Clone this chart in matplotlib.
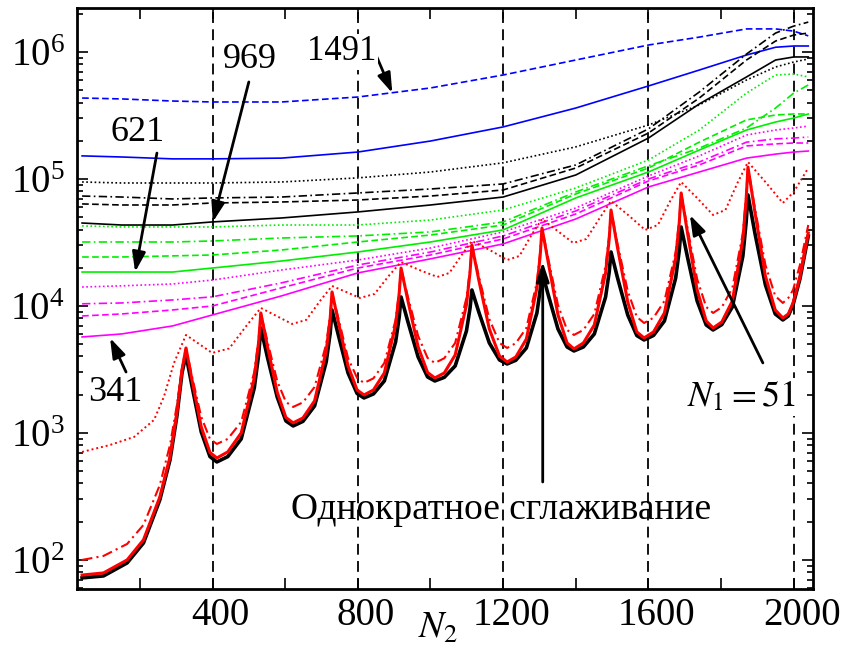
import numpy as np
import matplotlib.pyplot as plt
from matplotlib.ticker import MultipleLocator, LogLocator, NullFormatter
from matplotlib.transforms import ScaledTranslation

plt.rcParams['font.family'] = ['Liberation Serif', 'DejaVu Serif']
plt.rcParams['mathtext.fontset'] = 'stix'

# ---- smooth curves (N1 = 341 ... 1491) ----
x_top = [41, 150, 290, 400, 590, 800, 1000, 1200, 1400, 1600, 1740, 1870, 1950, 2000, 2040]

blue_dashed = [4.34e5, 4.27e5, 4.11e5, 4.04e5, 4.04e5, 4.42e5, 5.21e5, 6.59e5, 8.65e5,
               1.135e6, 1.31e6, 1.52e6, 1.52e6, 1.46e6, 1.34e6]
blue_solid = [1.52e5, 1.49e5, 1.44e5, 1.44e5, 1.46e5, 1.63e5, 1.99e5, 2.57e5, 3.62e5,
              5.40e5, 7.21e5, 9.47e5, 1.09e6, 1.115e6, 1.115e6]

black_dotted = [9.47e4, 9.30e4, 9.30e4, 9.30e4, 9.47e4, 1.02e5, 1.135e5, 1.34e5, 1.79e5,
                2.66e5, 3.83e5, 6.02e5, 7.62e5, 8.34e5, 8.81e5]
black_dashdot = [7.34e4, 7.21e4, 6.96e4, 7.09e4, 7.21e4, 7.76e4, 8.34e4, 9.14e4, 1.29e5,
                 2.48e5, 4.84e5, 9.64e5, 1.41e6, 1.60e6, 1.72e6]
black_dashed = [6.36e4, 6.24e4, 6.24e4, 6.47e4, 6.59e4, 6.83e4, 7.34e4, 8.19e4, 1.22e5,
                2.30e5, 4.34e5, 8.65e5, 1.22e6, 1.36e6, 1.41e6]
black_solid = [4.50e4, 4.34e4, 4.34e4, 4.59e4, 4.93e4, 5.50e4, 6.24e4, 7.21e4, 1.075e5,
               2.10e5, 3.90e5, 6.36e5, 8.65e5, 9.14e5, 9.14e5]

green_dotted = [4.27e4, 4.19e4, 4.19e4, 4.19e4, 4.34e4, 4.34e4, 4.75e4, 5.70e4, 8.50e4,
                1.41e5, 2.43e5, 4.75e5, 6.59e5, 6.71e5, 6.36e5]
green_dashdot = [3.19e4, 3.19e4, 3.19e4, 3.25e4, 3.43e4, 3.56e4, 3.83e4, 4.59e4, 7.90e4,
                 1.27e5, 1.75e5, 2.52e5, 3.62e5, 4.75e5, 5.50e5]
green_dashed = [2.43e4, 2.43e4, 2.48e4, 2.52e4, 2.76e4, 3.19e4, 3.62e4, 4.34e4, 7.62e4,
                1.22e5, 1.95e5, 2.92e5, 3.19e5, 3.25e5, 3.25e5]
green_solid = [1.85e4, 1.85e4, 1.85e4, 1.99e4, 2.26e4, 2.66e4, 3.19e4, 3.97e4, 7.09e4,
               1.135e5, 1.69e5, 2.43e5, 2.81e5, 3.02e5, 3.25e5]

magenta_dotted = [1.41e4, 1.44e4, 1.49e4, 1.60e4, 1.92e4, 2.30e4, 2.86e4, 3.83e4, 5.91e4,
                  1.056e5, 1.52e5, 2.22e5, 2.43e5, 2.52e5, 2.61e5]
magenta_dashdot = [1.04e4, 1.056e4, 1.115e4, 1.18e4, 1.52e4, 2.10e4, 2.66e4, 3.56e4, 5.60e4,
                   1.00e5, 1.36e5, 1.95e5, 2.07e5, 2.10e5, 2.14e5]
magenta_dashed = [8.34e3, 8.65e3, 9.30e3, 1.00e4, 1.39e4, 1.99e4, 2.52e4, 3.37e4, 5.30e4,
                  9.64e4, 1.29e5, 1.82e5, 1.89e5, 1.92e5, 1.92e5]
magenta_solid = [5.70e3, 6.02e3, 6.96e3, 8.50e3, 1.20e4, 1.82e4, 2.35e4, 3.08e4, 4.84e4,
                 8.65e4, 1.135e5, 1.46e5, 1.57e5, 1.63e5, 1.66e5]

# ---- oscillating curves (N1 = 51 and single smoothing) ----
x_osc = [41, 100, 165, 210, 255, 283, 302, 316,
         327, 344, 369, 393, 412, 442, 479, 515, 527,
         533, 551, 578, 602, 622, 649, 681, 713, 724,
         729, 747, 773, 798, 817, 843, 873, 904, 914,
         919, 938, 966, 992, 1012, 1038, 1068, 1099, 1109,
         1114, 1133, 1162, 1190, 1211, 1235, 1264, 1293, 1302,
         1307, 1325, 1351, 1376, 1395, 1421, 1451, 1482, 1492,
         1497, 1515, 1543, 1568, 1588, 1614, 1644, 1675, 1685,
         1690, 1708, 1734, 1759, 1778, 1802, 1831, 1860, 1869,
         1874, 1893, 1922, 1949, 1970, 1985, 1998, 2017, 2040]

red_solid = [76, 79, 100, 144, 313, 647, 1440, 3130,
             4670, 2570, 1115, 702, 635, 709, 1000, 2710, 5206,
             8810, 4840, 2100, 1324, 1200, 1313, 1790, 4420, 8044,
             12900, 7350, 3370, 2181, 1990, 2181, 2970, 7090, 12660,
             19900, 10950, 4760, 2995, 2710, 2968, 4110, 10180, 18520,
             30200, 16000, 6590, 4040, 3620, 3966, 5500, 13900, 24980,
             41100, 21400, 8500, 5113, 4590, 5113, 7090, 18200, 33700,
             57000, 28600, 10750, 6243, 5600, 6243, 8810, 23900, 45850,
             77600, 36900, 13400, 7618, 6710, 7482, 10950, 33700, 69580,
             124000, 55000, 17200, 9300, 8040, 8650, 10560, 16900, 37600]

single_smooth = [72.2, 74.8, 94.7, 136, 297, 613, 1361, 2968,
                 4114, 2302, 1018, 651, 591, 651, 897, 2261, 4114,
                 6711, 3966, 1920, 1243, 1135, 1234, 1632, 3623, 6131,
                 9300, 5805, 2968, 2043, 1886, 2028, 2567, 5206, 8194,
                 11770, 7482, 3966, 2760, 2567, 2740, 3370, 6355, 9646,
                 13360, 8970, 5113, 3757, 3494, 3737, 4670, 8810, 13360,
                 18520, 11990, 6589, 4755, 4423, 4755, 6019, 11770, 18520,
                 26620, 16620, 8495, 5847, 5399, 5860, 7618, 16620, 27600,
                 41880, 23880, 10950, 7085, 6471, 7137, 9820, 24760, 45850,
                 74820, 37570, 14640, 8650, 7760, 8343, 10180, 16320, 35580]

red_dashdot = [100, 107.5, 133.6, 188.6, 389.5, 804, 1662, 3250,
               4670, 2760, 1337, 897, 819, 897, 1221, 3022, 5498,
               8810, 5302, 2567, 1754, 1602, 1741, 2302, 5021, 8495,
               12890, 7900, 3896, 2711, 2476, 2691, 3558, 7760, 13130,
               19920, 11770, 5805, 3896, 3558, 3875, 5113, 11560, 19550,
               30220, 17230, 7900, 5113, 4670, 5094, 6711, 15450, 26620,
               41140, 23020, 10180, 6471, 5910, 6471, 8650, 20650, 36230,
               57000, 30770, 13130, 8194, 7346, 8074, 10950, 26620, 48420,
               77600, 40400, 16320, 9820, 8810, 9775, 13860, 37570, 73460,
               124300, 59110, 21020, 11990, 10560, 11560, 13360, 21020, 43420]

x_red_dotted = [41, 118, 184, 239, 266, 294,
                327, 363, 399, 446, 493,
                533, 576, 619, 658, 696,
                729, 768, 806, 846, 885,
                919, 969, 1019, 1052, 1086,
                1114, 1163, 1211, 1245, 1278,
                1307, 1350, 1393, 1429, 1466,
                1497, 1544, 1591, 1626, 1660,
                1690, 1734, 1778, 1812, 1845,
                1874, 1922, 1970, 2000, 2040]
red_dotted = [709, 804, 930, 1266, 1920, 3558,
              5910, 5021, 4265, 4628, 6959,
              9646, 8343, 7216, 7760, 10950,
              14370, 12890, 11560, 12430, 17230,
              22210, 19210, 16920, 18190, 25210,
              32500, 27600, 23020, 24760, 36230,
              48420, 38950, 31340, 33700, 49310,
              67110, 52060, 39660, 43420, 67110,
              94720, 70860, 52060, 57000, 93000,
              136100, 94720, 64710, 79000, 122100]

vlines = [400, 800, 1200, 1600, 2000]

dot = (0, (1, 1.5))
dash = (0, (4, 2))
dashdot = (0, (5, 2, 1, 2))

fig = plt.figure(figsize=(8.49, 6.52), dpi=100)
ax = fig.add_axes([0.0907, 0.0966, 0.8669, 0.8911])
ax.set_yscale('log')

for v in vlines:
    ax.axvline(v, color='k', lw=1.3, ls=(0, (6, 3.5)), zorder=1)

lw = 1.2
ax.plot(x_top, blue_dashed, color='#0000ff', lw=lw, ls=dash)
ax.plot(x_top, blue_solid, color='#0000ff', lw=lw)
ax.plot(x_top, black_dotted, color='k', lw=lw, ls=dot)
ax.plot(x_top, black_dashdot, color='k', lw=lw, ls=dashdot)
ax.plot(x_top, black_dashed, color='k', lw=lw, ls=dash)
ax.plot(x_top, black_solid, color='k', lw=lw)
ax.plot(x_top, green_dotted, color='#00ee00', lw=lw, ls=dot)
ax.plot(x_top, green_dashdot, color='#00ee00', lw=lw, ls=dashdot)
ax.plot(x_top, green_dashed, color='#00ee00', lw=lw, ls=dash)
ax.plot(x_top, green_solid, color='#00ee00', lw=lw)
ax.plot(x_top, magenta_dotted, color='#ff00ff', lw=lw, ls=dot)
ax.plot(x_top, magenta_dashdot, color='#ff00ff', lw=lw, ls=dashdot)
ax.plot(x_top, magenta_dashed, color='#ff00ff', lw=lw, ls=dash)
ax.plot(x_top, magenta_solid, color='#ff00ff', lw=lw)

ax.plot(x_osc, single_smooth, color='k', lw=2.6)
ax.plot(x_osc, red_solid, color='#ff0000', lw=2.2)
ax.plot(x_osc, red_dashdot, color='#ff0000', lw=1.5, ls=dashdot)
ax.plot(x_red_dotted, red_dotted, color='#ff0000', lw=1.4, ls=dot)

ax.set_xlim(27, 2053)
ax.set_ylim(59, 2.22e6)

ax.xaxis.set_major_locator(MultipleLocator(400))
ax.xaxis.set_minor_locator(MultipleLocator(200))
ax.yaxis.set_major_locator(LogLocator(base=10))
ax.yaxis.set_minor_locator(LogLocator(base=10, subs=np.arange(2, 10)))
ax.yaxis.set_minor_formatter(NullFormatter())
ax.set_xticks([400, 800, 1200, 1600, 2000])
ax.tick_params(which='both', direction='in', top=True, right=True, width=1.2)
ax.tick_params(which='major', length=8)
ax.tick_params(which='minor', length=4)
ax.tick_params(axis='x', which='minor', length=8)
ax.tick_params(axis='x', labelsize=28, pad=6)
ax.tick_params(axis='y', labelsize=28, pad=9)
for s in ax.spines.values():
    s.set_linewidth(2)

# x tick labels sit a little to the right of their ticks in the original
shift = ScaledTranslation(8 / 100, 0, fig.dpi_scale_trans)
for lab in ax.get_xticklabels():
    lab.set_transform(lab.get_transform() + shift)

ax.set_xlabel(r'$N_2$', fontsize=27)
ax.xaxis.set_label_coords(0.49, -0.038)

arrow = dict(arrowstyle='-|>,head_length=0.6,head_width=0.2', color='k', lw=2,
             mutation_scale=20, shrinkA=0, shrinkB=0)
box = dict(fc='w', ec='none', pad=1)

ax.annotate('', xy=(895, 4.75e5), xytext=(850, 9.47e5), arrowprops=arrow)
ax.text(756, 1.0e6, '1491', fontsize=25, ha='center', va='center', bbox=box)

ax.annotate('', xy=(401, 4.59e4), xytext=(500, 5.81e5), arrowprops=arrow)
ax.text(503, 8.65e5, '969', fontsize=26, ha='center', va='center', bbox=box)

ax.annotate('', xy=(187, 1.85e4), xytext=(247, 1.60e5), arrowprops=arrow)
ax.text(195, 2.34e5, '621', fontsize=26, ha='center', va='center', bbox=box)

ax.annotate('', xy=(118, 5600), xytext=(162, 3020), arrowprops=arrow)
ax.text(132, 2100, '341', fontsize=26, ha='center', va='center', bbox=box)

ax.annotate('', xy=(1714, 5.21e4), xytext=(1915, 3560), arrowprops=arrow)
ax.text(1855, 1920, r'$N_1 = 51$', fontsize=26, ha='center', va='center', bbox=box)

ax.annotate('', xy=(1309, 2.22e4), xytext=(1309, 411), arrowprops=arrow)
ax.text(1194, 248, 'Однократное сглаживание', fontsize=27, ha='center', va='center')

fig.savefig('out.png', dpi=100)
